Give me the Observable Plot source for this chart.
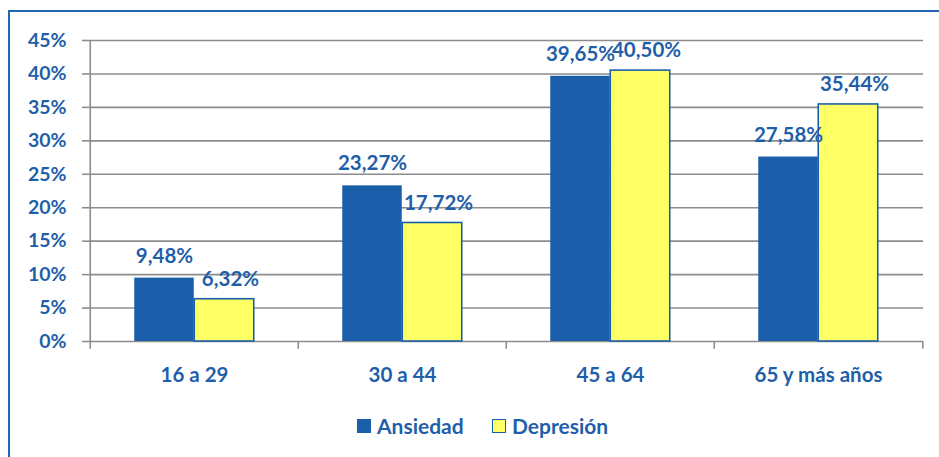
<!DOCTYPE html>
<html>
<head>
<meta charset="utf-8">
<script src="https://cdn.jsdelivr.net/npm/d3@7"></script>
<script src="https://cdn.jsdelivr.net/npm/@observablehq/plot@0.6"></script>
<style>
  html, body { margin: 0; padding: 0; background: #fff; }
  body { width: 939px; height: 457px; position: relative; overflow: hidden; font-family: Lato, "Open Sans", sans-serif; }
  #border { position: absolute; left: 8px; top: 10px; width: 960px; height: 480px; border-left: 2px solid #2166b4; border-top: 2px solid #2166b4; box-sizing: border-box; }
  #chart { position: absolute; left: 0; top: 0; }
  #legend { position: absolute; top: 413px; left: 357px; display: flex; align-items: center; font-weight: 700; font-size: 21px; color: #1F5FA9; }
  .sw { width: 14px; height: 14px; display: inline-block; margin-right: 6px; box-sizing: border-box; }
  .item { display: flex; align-items: center; }
  .item:first-child { width: 135px; }
</style>
</head>
<body>
<div id="border"></div>
<div id="chart"></div>
<div id="legend"></div>
<script>
const categories = ["16 a 29", "30 a 44", "45 a 64", "65 y más años"];
const ansiedad = [9.48, 23.27, 39.65, 27.58];
const depresion = [6.32, 17.72, 40.50, 35.44];
const seriesNames = ["Ansiedad", "Depresión"];
const yTicks = [0, 5, 10, 15, 20, 25, 30, 35, 40, 45];

const blue = "#1B5EAA";
const yellow = "#FFFF66";
const textBlue = "#1F5FA9";
const grid = "#8c8c8c";

const W = 939, H = 395, mL = 89, mR = 16, mT = 40, mB = 54;
const step = (W - mL - mR) / categories.length;
const barW = 60;

const rowsA = categories.map((c, i) => ({cat: c, series: seriesNames[0], value: ansiedad[i]}));
const rowsD = categories.map((c, i) => ({cat: c, series: seriesNames[1], value: depresion[i]}));
const fmt = v => v.toFixed(2).replace(".", ",") + "%";

const chart = Plot.plot({
  width: W, height: H,
  marginLeft: mL, marginRight: mR, marginTop: mT, marginBottom: mB,
  style: {fontFamily: "Lato, 'Open Sans', sans-serif", fontWeight: 700, fontSize: "19px", color: textBlue, background: "transparent", overflow: "visible"},
  x: {domain: categories, padding: 0, axis: null},
  y: {domain: [0, 45], axis: null},
  marks: [
    Plot.ruleY(yTicks, {y: d => d, stroke: grid, strokeWidth: 1.6}),
    Plot.axisY(yTicks, {label: null, tickSize: 7, tickPadding: 16, tickFormat: d => d + "%", stroke: grid, strokeWidth: 1.6, fill: textBlue, fontSize: 19.5, fontWeight: 700}),
    Plot.ruleX(categories, {x: d => d, dx: -step / 2, y1: 0, y2: -1.15, stroke: grid, strokeWidth: 1.6}),
    Plot.ruleX(categories.slice(-1), {x: d => d, dx: step / 2, y1: 0, y2: -1.15, stroke: grid, strokeWidth: 1.6}),
    Plot.ruleX(categories.slice(0, 1), {x: d => d, dx: -step / 2, y1: 0, y2: 45, stroke: grid, strokeWidth: 1.6}),
    Plot.barY(rowsA, {x: "cat", y: "value", fill: blue, insetLeft: step / 2 - barW, insetRight: step / 2}),
    Plot.barY(rowsD, {x: "cat", y: "value", fill: yellow, stroke: blue, strokeWidth: 1.6, insetLeft: step / 2, insetRight: step / 2 - barW}),
    Plot.text(rowsA, {x: "cat", y: "value", text: d => fmt(d.value), dx: -barW / 2, dy: -22, fill: textBlue, fontSize: 20.5, fontWeight: 700}),
    Plot.text(rowsD, {x: "cat", y: "value", text: d => fmt(d.value), dx: barW / 2 + 6, dy: -20, fill: textBlue, fontSize: 20.5, fontWeight: 700}),
    Plot.text(categories, {x: d => d, y: 0, dy: 34, text: d => d, fill: textBlue, fontSize: 20.5, fontWeight: 700})
  ]
});
document.getElementById("chart").appendChild(chart);

const legend = document.getElementById("legend");
[[seriesNames[0], blue, blue], [seriesNames[1], yellow, blue]].forEach(([name, fill, stroke]) => {
  const item = document.createElement("span");
  item.className = "item";
  const sw = document.createElement("span");
  sw.className = "sw";
  sw.style.background = fill;
  sw.style.border = "1.5px solid " + stroke;
  item.appendChild(sw);
  item.appendChild(document.createTextNode(name));
  legend.appendChild(item);
});
</script>
</body>
</html>
